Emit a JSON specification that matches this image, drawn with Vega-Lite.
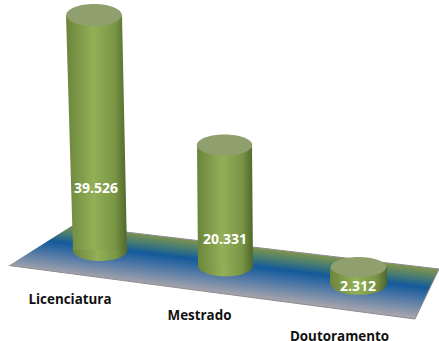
{
"$schema":"https://vega.github.io/schema/vega-lite/v6.json",
"autosize":"none",
"width":439,"height":341,"padding":0,"background":"white",
"config":{"view":{"stroke":null}},
"datasets":{
"floor":[{"i":1,"pos":72,"level":19601},{"i":2,"pos":439,"level":12240},{"i":3,"pos":415,"level":3740},{"i":4,"pos":9,"level":12835}],
"walls":[
{"grade":"Licenciatura","i":1,"pos":66,"level":55420},{"grade":"Licenciatura","i":2,"pos":122,"level":55420},{"grade":"Licenciatura","i":3,"pos":127,"level":15470},{"grade":"Licenciatura","i":4,"pos":73,"level":15470},
{"grade":"Mestrado","i":1,"pos":197,"level":33320},{"grade":"Mestrado","i":2,"pos":252,"level":33320},{"grade":"Mestrado","i":3,"pos":253,"level":12750},{"grade":"Mestrado","i":4,"pos":198,"level":12750},
{"grade":"Doutoramento","i":1,"pos":330,"level":12580},{"grade":"Doutoramento","i":2,"pos":387,"level":12580},{"grade":"Doutoramento","i":3,"pos":387,"level":9520},{"grade":"Doutoramento","i":4,"pos":330,"level":9520}],
"bases":[{"end":"lic","pos":100,"level":15470},{"end":"mes","pos":225.5,"level":12750},{"end":"dou","pos":358.5,"level":9520}],
"tops":[{"end":"lic","pos":94,"level":55420},{"end":"mes","pos":224.5,"level":33320},{"end":"dou","pos":358.5,"level":12580}],
"values":[{"grade":"Licenciatura","value":39526,"text":"39.526","pos":96,"level":25840},{"grade":"Mestrado","value":20331,"text":"20.331","pos":225,"level":17170},{"grade":"Doutoramento","value":2312,"text":"2.312","pos":358,"level":9180}],
"names":[{"grade":"Licenciatura","pos":70,"level":6970},{"grade":"Mestrado","pos":199.5,"level":4300},{"grade":"Doutoramento","pos":339.5,"level":765}]
},
"data":{"name":"values"},
"encoding":{
"x":{"field":"pos","type":"quantitative","scale":{"domain":[0,439],"nice":false,"zero":false},"axis":null},
"y":{"field":"level","type":"quantitative","scale":{"domain":[0,57970],"nice":false,"zero":false},"axis":null}
},
"layer":[
{"data":{"name":"floor"},
"mark":{"type":"line","filled":true,"stroke":"#8c8c90","strokeWidth":1,"clip":false,
"fill":{"gradient":"linear","x1":0.5,"y1":0.195,"x2":0.272,"y2":0.595,"stops":[{"offset":0,"color":"#7d9350"},{"offset":0.18,"color":"#4a7d70"},{"offset":0.38,"color":"#135a9b"},{"offset":0.55,"color":"#3a6da3"},{"offset":1,"color":"#a3a3ad"}]}},
"encoding":{"order":{"field":"i","type":"ordinal"}}},
{"data":{"name":"bases"},
"mark":{"type":"point","filled":true,"size":3000,"opacity":1,
"fill":{"gradient":"linear","x1":0,"y1":0,"x2":1,"y2":0,"stops":[{"offset":0,"color":"#6a843a"},{"offset":0.45,"color":"#93b058"},{"offset":0.8,"color":"#7a9545"},{"offset":1,"color":"#4f682c"}]}},
"encoding":{"shape":{"field":"end","type":"nominal","legend":null,"scale":{"domain":["lic","mes","dou"],"range":["M-1,0A1,0.4,0,1,1,1,0A1,0.4,0,1,1,-1,0Z","M-1,0A1,0.38,0,1,1,1,0A1,0.38,0,1,1,-1,0Z","M-1,0A1,0.36,0,1,1,1,0A1,0.36,0,1,1,-1,0Z"]}}}},
{"data":{"name":"walls"},
"mark":{"type":"line","filled":true,"strokeWidth":0,
"fill":{"gradient":"linear","x1":0,"y1":0,"x2":1,"y2":0,"stops":[{"offset":0,"color":"#6a843a"},{"offset":0.45,"color":"#93b058"},{"offset":0.8,"color":"#7a9545"},{"offset":1,"color":"#4f682c"}]}},
"encoding":{"detail":{"field":"grade","type":"nominal"},"order":{"field":"i","type":"ordinal"}}},
{"data":{"name":"tops"},
"mark":{"type":"point","filled":true,"size":3080,"opacity":1,"fill":"#8f9f6e"},
"encoding":{"shape":{"field":"end","type":"nominal","legend":null,"scale":{"domain":["lic","mes","dou"],"range":["M-1,0A1,0.17,0,1,1,1,0A1,0.17,0,1,1,-1,0Z","M-1,0A1,0.26,0,1,1,1,0A1,0.26,0,1,1,-1,0Z","M-1,0A1,0.26,0,1,1,1,0A1,0.26,0,1,1,-1,0Z"]}}}},
{"data":{"name":"values"},
"mark":{"type":"text","color":"white","fontWeight":"bold","font":"Open Sans","fontSize":14,"align":"center","baseline":"middle"},
"encoding":{"text":{"field":"text","type":"nominal"}}},
{"data":{"name":"names"},
"mark":{"type":"text","color":"#111111","fontWeight":"bold","font":"Open Sans","fontSize":13.4,"align":"center","baseline":"middle"},
"encoding":{"text":{"field":"grade","type":"nominal"}}}
]
}
